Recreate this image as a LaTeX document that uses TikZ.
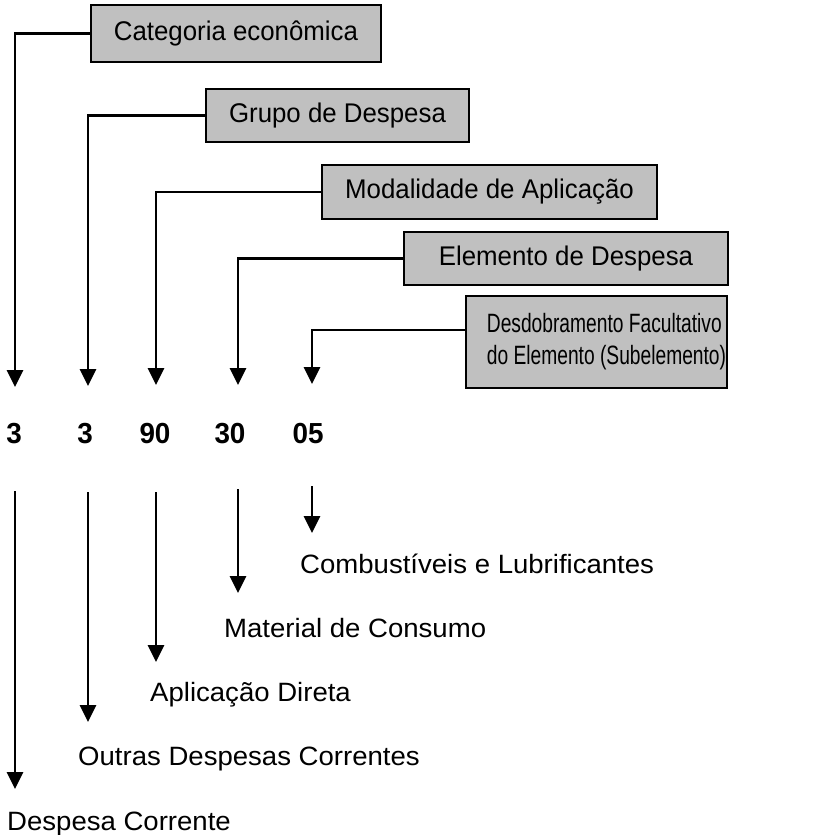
\documentclass[tikz,border=0pt]{standalone}
\usepackage{fontspec}
\setmainfont{Liberation Sans}
\usetikzlibrary{arrows.meta}

% text widened or narrowed to the proportions of the printed labels
\newcommand{\wide}[2]{\scalebox{#1}[1]{#2}}

\begin{document}
\begin{tikzpicture}[x=1pt,y=-1pt,
  box/.style={draw=black,line width=1.8pt,fill=boxgray,inner sep=0pt,
    font=\fontsize{27}{32}\selectfont},
  lead/.style={line width=2.8pt,-{Triangle[length=17pt,width=16pt]}},
  code/.style={font=\fontsize{29}{32}\selectfont\bfseries,inner sep=0pt},
  meaning/.style={font=\fontsize{26.5}{30}\selectfont,inner sep=0pt,anchor=base west}]
\definecolor{boxgray}{HTML}{C0C0C0}
\useasboundingbox (0,0) rectangle (830,835);

% classification boxes
\node[box,minimum width=290pt,minimum height=57pt] (b1) at (236,33.5) {\wide{0.957}{Categoria econômica}};
\node[box,minimum width=263pt,minimum height=53pt] (b2) at (337.5,115.5) {\wide{0.957}{Grupo de Despesa}};
\node[box,minimum width=335pt,minimum height=54pt] (b3) at (489.5,192) {\wide{0.957}{Modalidade de Aplicação}};
\node[box,minimum width=324pt,minimum height=53pt] (b4) at (566,258.5) {\wide{0.957}{Elemento de Despesa}};
\node[box,minimum width=261pt,minimum height=92pt,font=\fontsize{26.5}{32}\selectfont] (b5) at (596.5,342)
  {\hspace*{20pt}\wide{0.725}{\begin{tabular}{@{}l@{}}Desdobramento Facultativo\\do Elemento (Subelemento)\end{tabular}}};

% arrow tips above the code digits
\coordinate (t1) at (15,387);
\coordinate (t2) at (88,386);
\coordinate (t3) at (156,385);
\coordinate (t4) at (238,385);
\coordinate (t5) at (312,384);

\draw[lead] (b1.west) -| (t1);
\draw[lead] (b2.west) -| (t2);
\draw[lead] (b3.west) -| (t3);
\draw[lead] (b4.west) -| (t4);
\draw[lead] ([yshift=12pt]b5.west) -| (t5);

% the code
\node[code] (n1) at (14,434) {\wide{0.96}{3}};
\node[code] (n2) at (85,434) {\wide{0.96}{3}};
\node[code] (n3) at (155,434) {\wide{0.96}{90}};
\node[code] (n4) at (230,434) {\wide{0.96}{30}};
\node[code] (n5) at (308,434) {\wide{0.96}{05}};

% meanings of each part
\node[meaning] (m5) at (300,573) {\wide{1.04}{Combustíveis e Lubrificantes}};
\node[meaning] (m4) at (224,637) {\wide{1.04}{Material de Consumo}};
\node[meaning] (m3) at (150,701) {\wide{1.04}{Aplicação Direta}};
\node[meaning] (m2) at (78,765) {\wide{1.04}{Outras Despesas Correntes}};
\node[meaning] (m1) at (7,830) {\wide{1.04}{Despesa Corrente}};

\coordinate (s1) at (15,491);  \coordinate (e1) at (15,789);
\coordinate (s2) at (88,492);  \coordinate (e2) at (88,722);
\coordinate (s3) at (156,492); \coordinate (e3) at (156,662);
\coordinate (s4) at (238,489); \coordinate (e4) at (238,593);
\coordinate (s5) at (312,486); \coordinate (e5) at (312,533);

\draw[lead] (s1) -- (e1);
\draw[lead] (s2) -- (e2);
\draw[lead] (s3) -- (e3);
\draw[lead] (s4) -- (e4);
\draw[lead] (s5) -- (e5);
\end{tikzpicture}
\end{document}
